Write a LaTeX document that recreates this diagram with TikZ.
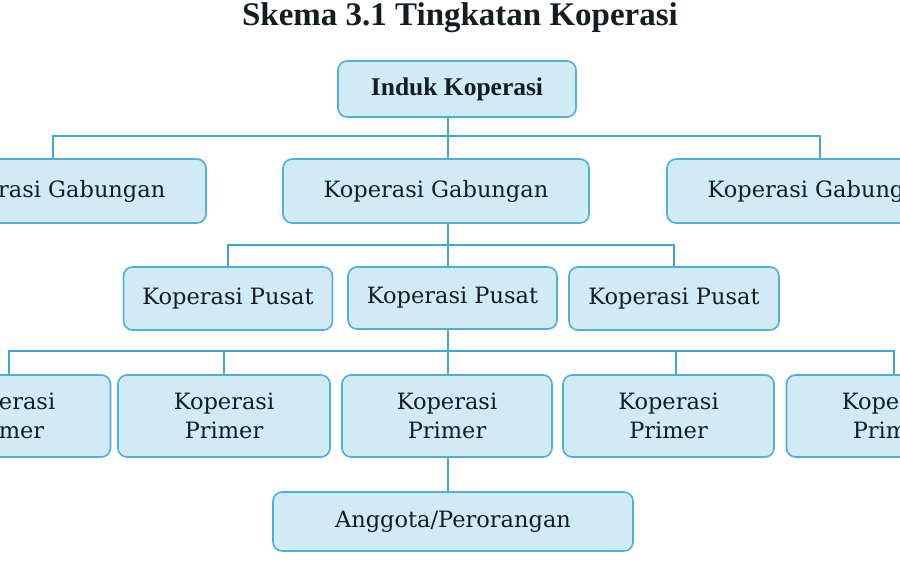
\documentclass[tikz,border=0pt]{standalone}
\usepackage{fontspec}
\setmainfont{DejaVu Serif}
\newfontfamily\titlefont{Liberation Serif}
\definecolor{boxfill}{HTML}{D0EAF6}
\definecolor{boxline}{HTML}{4FB0D6}
\definecolor{connline}{HTML}{3FA7D0}
\definecolor{txt}{HTML}{141E22}
\begin{document}
\begin{tikzpicture}[x=1pt,y=-1pt,
  box/.style={draw=boxline, fill=boxfill, rounded corners=9pt, line width=1.6pt,
    text=txt, inner sep=0pt, align=center, font=\fontsize{22.5}{29}\selectfont},
  conn/.style={draw=connline, line width=2pt}]
\useasboundingbox (0,0) rectangle (900,560);
\clip (0,0) rectangle (900,560);
\node[anchor=base, text=txt, font=\titlefont\bfseries\fontsize{33}{36}\selectfont] (title) at (460,25) {Skema 3.1 Tingkatan Koperasi};
% level 0
\node[box, minimum width=238, minimum height=56, font=\titlefont\bfseries\fontsize{25.5}{30}\selectfont] (induk) at (457,89) {Induk Koperasi};
% level 1
\node[box, minimum width=306, minimum height=64] (g1) at (53,191) {Koperasi Gabungan};
\node[box, minimum width=306, minimum height=64] (g2) at (436,191) {Koperasi Gabungan};
\node[box, minimum width=306, minimum height=64] (g3) at (820,191) {Koperasi Gabungan};
% level 2
\node[box, minimum width=209, minimum height=63] (p1) at (228,298.5) {Koperasi Pusat};
\node[box, minimum width=209, minimum height=62] (p2) at (452.5,298) {\raisebox{-4pt}{Koperasi Pusat}};
\node[box, minimum width=210, minimum height=63] (p3) at (674,298.5) {\raisebox{-4pt}{Koperasi Pusat}};
% level 3
\node[box, minimum width=211, minimum height=82] (k1) at (5,416) {Koperasi\\Primer};
\node[box, minimum width=212, minimum height=82] (k2) at (224,416) {Koperasi\\Primer};
\node[box, minimum width=210, minimum height=82] (k3) at (447,416) {Koperasi\\Primer};
\node[box, minimum width=211, minimum height=82] (k4) at (668.5,416) {Koperasi\\Primer};
\node[box, minimum width=211, minimum height=82] (k5) at (892,416) {Koperasi\\Primer};
% level 4
\node[box, minimum width=360, minimum height=59] (ang) at (453,521.5) {\raisebox{4pt}{Anggota/Perorangan}};
% connectors
\coordinate (trunk) at (448,0);
\coordinate (bus1) at (0,136);
\coordinate (bus2) at (0,245);
\coordinate (bus3) at (0,351);
\draw[conn] (induk.south -| trunk) -- (g2.north -| trunk);
\draw[conn] (g1.north) -- (g1.north |- bus1) -- (g3.north |- bus1) -- (g3.north);
\draw[conn] (g2.south -| trunk) -- (p2.north -| trunk);
\draw[conn] (p1.north) -- (p1.north |- bus2) -- (p3.north |- bus2) -- (p3.north);
\draw[conn] (p2.south -| trunk) -- (k3.north -| trunk);
\draw[conn] ([xshift=4pt]k1.north) -- ([xshift=4pt]k1.north |- bus3) -- ([xshift=2pt]k5.north |- bus3) -- ([xshift=2pt]k5.north);
\draw[conn] (k2.north) -- (k2.north |- bus3);
\draw[conn] ([xshift=7pt]k4.north) -- ([xshift=7pt]k4.north |- bus3);
\draw[conn] (k3.south -| trunk) -- (ang.north -| trunk);
\end{tikzpicture}
\end{document}
